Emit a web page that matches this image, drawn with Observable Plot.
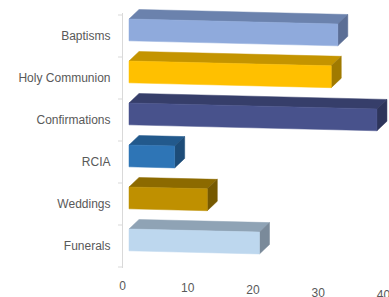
<!DOCTYPE html>
<html><head><meta charset="utf-8">
<script src="https://cdn.jsdelivr.net/npm/d3@7"></script>
<script src="https://cdn.jsdelivr.net/npm/@observablehq/plot@0.6"></script>
<style>body{margin:0;background:#fff;}</style>
</head><body><div id="chart"></div>
<script>
const categories = ["Baptisms", "Holy Communion", "Confirmations", "RCIA", "Weddings", "Funerals"];
const values = [32, 31, 38, 7, 12, 20];
const frontColors = ["#8FAADC", "#FFC000", "#48528C", "#2E75B6", "#BF9000", "#BDD7EE"];
const topColors = ["#6B82AD", "#C49400", "#363E6A", "#22598C", "#8C6A00", "#8FA3B5"];
const sideColors = ["#5B6E95", "#A07A00", "#2E355B", "#1D4C78", "#765900", "#7A8A9A"];
const xTicks = [0, 10, 20, 30, 40];

const data = categories.map((c, i) => ({category: c, value: values[i], front: frontColors[i], top: topColors[i], side: sideColors[i]}));

function bars3d(index, scales) {
  const X = typeof scales.x === "function" ? scales.x : v => scales.x.apply(v);
  const Y = typeof scales.y === "function" ? scales.y : v => scales.y.apply(v);
  const step = Y(categories[1]) - Y(categories[0]);
  const x0 = X(0);
  const k = 0.024, ddx = 10, ddy = 9.5;
  const g = d3.create("svg:g");
  const edges = categories.map(c => Y(c)).concat([Y(categories[categories.length - 1]) + step]);
  g.selectAll("line").data(edges).join("line")
    .attr("x1", x0 - 11).attr("x2", x0 - 7)
    .attr("y1", d => d).attr("y2", d => d)
    .attr("stroke", "#d9d9d9");
  const P = (x, y) => `${x},${y}`;
  for (const d of data) {
    const top = Y(d.category) + step * 0.095;
    const h = step * 0.52;
    const x1 = X(d.value);
    const s = k * (x1 - x0);
    const front = [P(x0, top), P(x1, top + s), P(x1, top + h + s), P(x0, top + h)];
    const topFace = [P(x0, top), P(x1, top + s), P(x1 + ddx, top + s - ddy), P(x0 + ddx, top - ddy)];
    const side = [P(x1, top + s), P(x1 + ddx, top + s - ddy), P(x1 + ddx, top + h + s - ddy), P(x1, top + h + s)];
    g.append("polygon").attr("points", topFace.join(" ")).attr("fill", d.top).attr("stroke", d.top).attr("stroke-width", 0.5);
    g.append("polygon").attr("points", side.join(" ")).attr("fill", d.side).attr("stroke", d.side).attr("stroke-width", 0.5);
    g.append("polygon").attr("points", front.join(" ")).attr("fill", d.front).attr("stroke", d.front).attr("stroke-width", 0.5);
  }
  return g.node();
}

const svg = Plot.plot({
  width: 389,
  height: 297,
  marginTop: 13,
  marginBottom: 29,
  marginLeft: 122,
  marginRight: 0,
  x: {domain: [0, 40], range: [129, 390]},
  y: {type: "band", domain: categories, padding: 0},
  style: {fontFamily: "'Liberation Sans', Arial, sans-serif", fontSize: "12px", color: "#595959", background: "#fff"},
  marks: [
    Plot.ruleX([0], {dx: -7, stroke: "#d9d9d9"}),
    bars3d,
    Plot.axisY({tickSize: 0, tickPadding: 12, label: null, fill: "#595959", fontSize: 12}),
    Plot.axisX({ticks: xTicks, tickSize: 0, tickPadding: 13, dx: -7, label: null, fill: "#595959", fontSize: 12})
  ]
});
document.getElementById("chart").append(svg);
const svgR = svg.getBoundingClientRect();
svg.querySelectorAll('[aria-label^="x-axis"] text').forEach(t => {
  const r = t.getBoundingClientRect();
  const cx = r.x + r.width / 2 - svgR.x;
  const d = 0.034 * (cx - 122);
  t.setAttribute("transform", (t.getAttribute("transform") || "") + ` translate(0,${d})`);
});
</script>
</body></html>
